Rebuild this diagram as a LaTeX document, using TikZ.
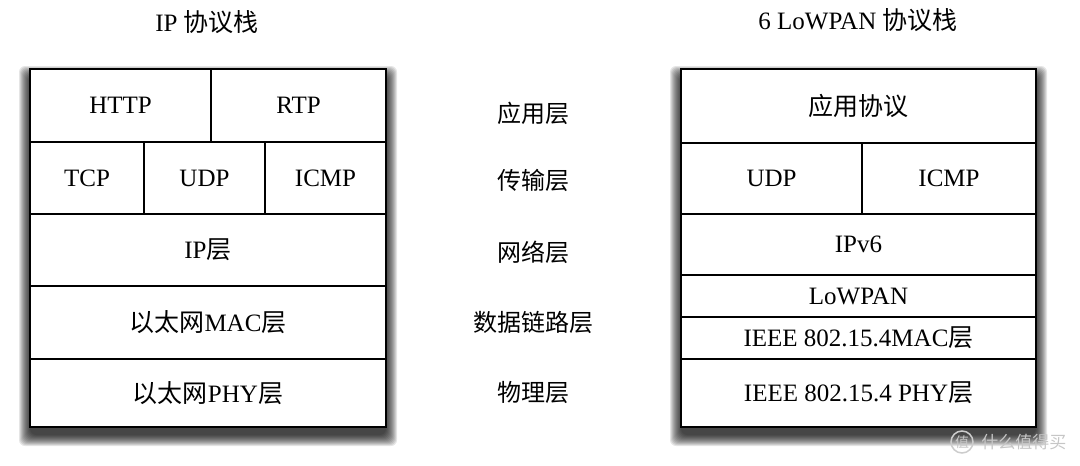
\documentclass[tikz,border=0pt]{standalone}
\usepackage{fontspec}
\setmainfont{Liberation Serif}
\newfontfamily\cjk{Noto Sans CJK SC}
\newcommand{\zh}[1]{{\cjk #1}}
\usetikzlibrary{positioning}
\tikzset{
	node distance=0pt,
	cell/.style={draw, fill=white, line width=2pt, rectangle, inner sep=0pt, outer sep=0pt, anchor=north west, font=\fontsize{25}{30}\selectfont},
	layer/.style={font=\fontsize{24}{28}\selectfont\cjk},
	title/.style={font=\fontsize{25}{30}\selectfont},
	shade/.style={fill=black, opacity=0.1, rounded corners=6pt},
	wmark/.style={text=gray!45, font=\fontsize{17}{17}\selectfont\cjk}
}

\begin{document}
\begin{tikzpicture}[x=1pt,y=-1pt]
	\useasboundingbox (0,0) rectangle (1080,466);

	% soft shadows behind both stacks
	\foreach \d in {1,...,12} {
		\fill[shade] (31-\d,78-\d) rectangle (385+\d,434+\d);
		\fill[shade] (682-\d,78-\d) rectangle (1035+\d,434+\d);
	}

	% IP stack
	\node[title] (iptitle) at (207,22) {IP \zh{协议栈}};
	\node[cell, minimum width=181pt, minimum height=73pt] (http) at (30,69) {HTTP};
	\node[cell, minimum width=175pt, minimum height=73pt, right=of http] (rtp) {RTP};
	\node[cell, minimum width=114pt, minimum height=72pt] (tcp) at (30,142) {TCP};
	\node[cell, minimum width=121pt, minimum height=72pt, right=of tcp] (udp) {UDP};
	\node[cell, minimum width=121pt, minimum height=72pt, right=of udp] (icmp) {ICMP};
	\node[cell, minimum width=356pt, minimum height=72pt] (ip) at (30,214) {IP\zh{层}};
	\node[cell, minimum width=356pt, minimum height=73pt, below=of ip] (mac) {\zh{以太网}MAC\zh{层}};
	\node[cell, minimum width=356pt, minimum height=68pt, below=of mac] (phy) {\zh{以太网}PHY\zh{层}};

	% layer names
	\node[layer] (lapp) at (533,113) {应用层};
	\node[layer] (ltrans) at (533,180) {传输层};
	\node[layer] (lnet) at (533,252) {网络层};
	\node[layer] (llink) at (533,322) {数据链路层};
	\node[layer] (lphy) at (533,392) {物理层};

	% 6LoWPAN stack
	\node[title] (lptitle) at (858,20) {6 LoWPAN \zh{协议栈}};
	\node[cell, minimum width=355pt, minimum height=74pt] (app) at (681,69) {\zh{应用协议}};
	\node[cell, minimum width=181pt, minimum height=71pt] (udp2) at (681,143) {UDP};
	\node[cell, minimum width=174pt, minimum height=71pt, right=of udp2] (icmp2) {ICMP};
	\node[cell, minimum width=355pt, minimum height=61pt] (ipv6) at (681,214) {IPv6};
	\node[cell, minimum width=355pt, minimum height=42pt, below=of ipv6] (lowpan) {LoWPAN};
	\node[cell, minimum width=355pt, minimum height=42pt, below=of lowpan] (mac2) {IEEE 802.15.4MAC\zh{层}};
	\node[cell, minimum width=355pt, minimum height=68pt, below=of mac2] (phy2) {IEEE 802.15.4 PHY\zh{层}};

	% watermark
	\node[wmark, circle, draw=gray!40, line width=1.5pt, minimum size=22pt, inner sep=0pt, font=\fontsize{14}{14}\selectfont\cjk] (wm) at (962,442) {值};
	\node[wmark, right=4pt of wm] (wmtext) {什么值得买};
\end{tikzpicture}
\end{document}
